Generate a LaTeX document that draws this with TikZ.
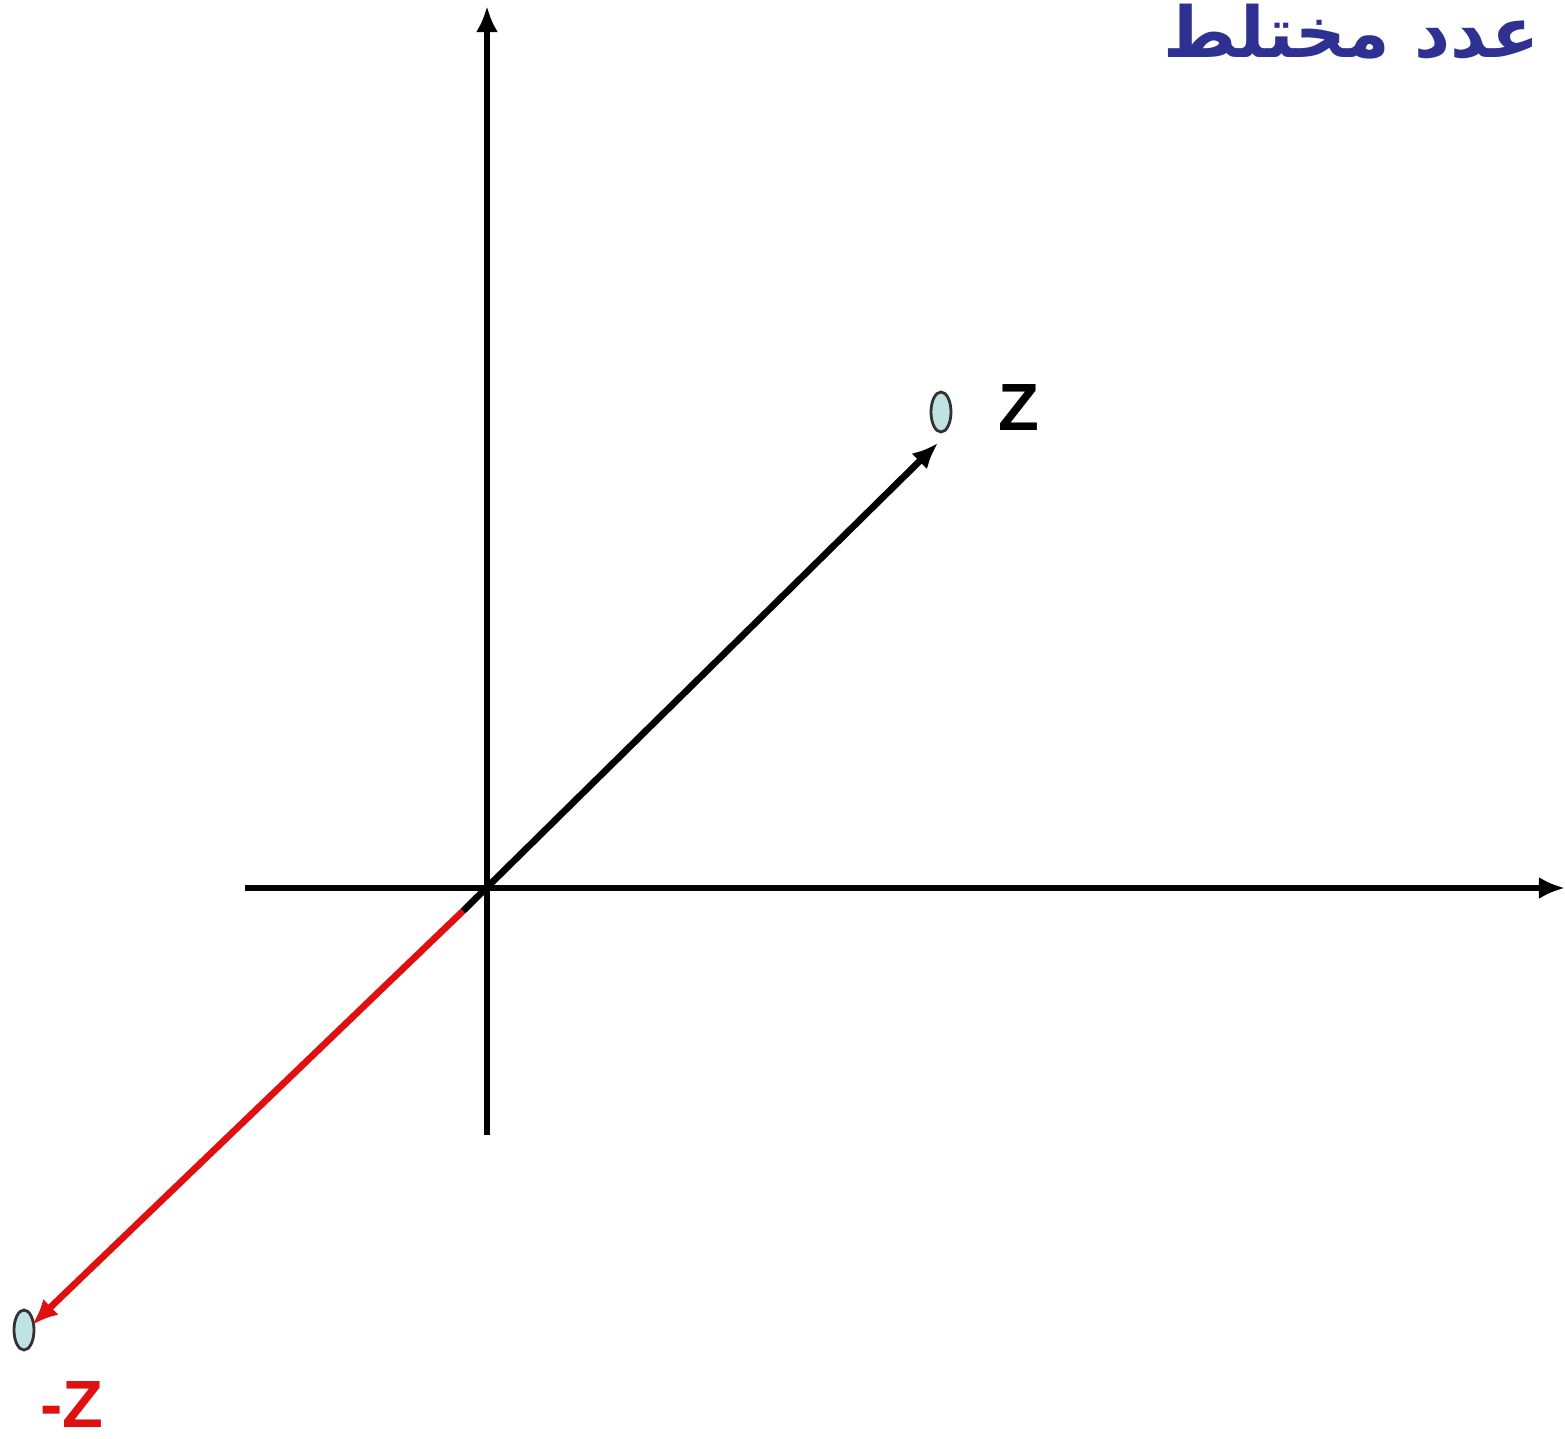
\documentclass[tikz,border=0pt]{standalone}
\usepackage{fontspec}
\setmainfont{Liberation Sans}[BoldFont={Liberation Sans Bold}]
\newfontfamily\arabicfont[Script=Arabic]{DejaVu Sans}
\TeXXeTstate=1
\usetikzlibrary{arrows.meta,shapes.geometric}
\definecolor{titleblue}{HTML}{2E3192}
\definecolor{ptfill}{HTML}{BFE3E3}
\definecolor{vecred}{HTML}{E01010}
\begin{document}
\begin{tikzpicture}[x=0.01cm,y=-0.01cm,
  axis/.style={line width=1.6pt,-{Latex[length=0.26cm,width=0.22cm]}},
  vec/.style={line width=1.9pt,-{Latex[length=0.26cm,width=0.22cm]}},
  pt/.style={ellipse,draw=black!80,line width=0.8pt,fill=ptfill,minimum width=0.2cm,minimum height=0.4cm,inner sep=0pt},
  lbl/.style={font=\bfseries\fontsize{19}{22}\selectfont}]
\useasboundingbox (0,0) rectangle (1565,1439);
\coordinate (O) at (487,888);
\coordinate (ybot) at (487,1135);
\coordinate (ytop) at (487,6);
\coordinate (xleft) at (245,888);
\coordinate (xright) at (1565,888);
\coordinate (vstart) at (463,911);
\draw[line width=1.6pt] (ybot) -- (O);
\draw[axis] (O) -- (ytop);
\draw[line width=1.6pt] (xleft) -- (O);
\draw[axis] (O) -- (xright);
\node[pt] (z) at (941,412) {};
\node[pt] (mz) at (24,1330) {};
\coordinate (ztip) at (938,443);
\coordinate (mztip) at (32,1325);
\draw[vec,vecred] (vstart) -- (mztip);
\draw[vec] (vstart) -- (ztip);
\node[lbl,anchor=west,inner sep=0pt] (zl) at (998,408) {Z};
\node[lbl,anchor=center,text=vecred] (mzl) at (72,1405) {-Z};
\node[anchor=north east,inner sep=0pt,text=titleblue,font=\arabicfont\bfseries\fontsize{20}{24}\selectfont] (title) at (1540,3) {\beginR عدد مختلط\endR};
\end{tikzpicture}
\end{document}
